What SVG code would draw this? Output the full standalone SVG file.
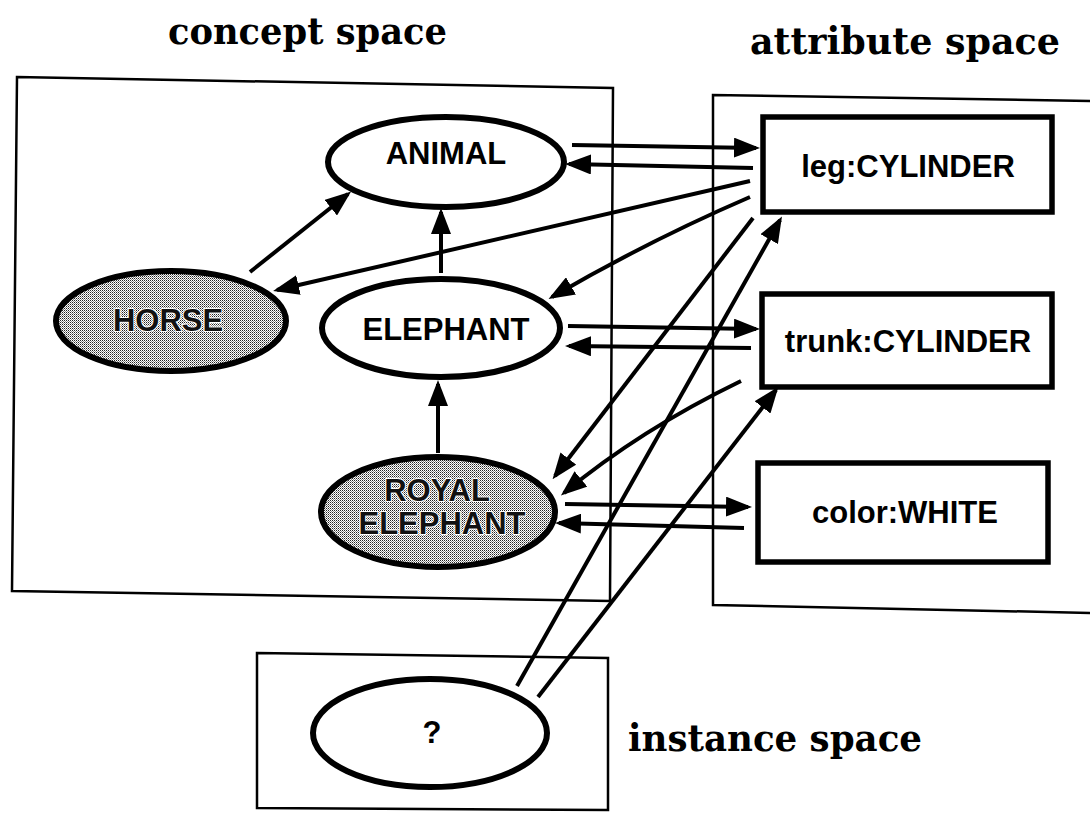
<svg xmlns="http://www.w3.org/2000/svg" width="1090" height="813" viewBox="0 0 1090 813">
  <defs>
    <!-- fine halftone used for the shaded concepts -->
    <pattern id="dither" width="2" height="2" patternUnits="userSpaceOnUse">
      <rect width="2" height="2" fill="#ffffff"/>
      <rect x="0" y="0" width="1" height="1" fill="#222"/>
      <rect x="1" y="1" width="1" height="1" fill="#888"/>
    </pattern>
    <marker id="head" markerUnits="userSpaceOnUse" markerWidth="26" markerHeight="20" refX="22" refY="10" orient="auto">
      <path d="M0,0 L26,10 L0,20 Z" fill="#000"/>
    </marker>
  </defs>
  <style>
    .space { fill: none; stroke: #000; stroke-width: 2.5; }
    .title { font-family: "DejaVu Serif", "Liberation Serif", serif; font-weight: bold; font-size: 38px; fill: #000; }
    .node { fill: #fff; stroke: #000; stroke-width: 6; }
    .shaded { fill: url(#dither); stroke: #000; stroke-width: 6; }
    .attr { fill: #fff; stroke: #000; stroke-width: 5.5; }
    .label { font-family: "Liberation Sans", Arial, sans-serif; font-weight: bold; font-size: 31px; fill: #000; text-anchor: middle; }
    .halo { fill: #111; stroke: #fff; stroke-width: 2; paint-order: stroke; stroke-linejoin: round; }
    .edge { fill: none; stroke: #000; stroke-width: 4; marker-end: url(#head); }
  </style>

  <rect width="1090" height="813" fill="#fff"/>

  <!-- the three spaces -->
  <g id="concept-space">
    <polygon class="space" points="17,77 613,88 610,601 12,591"/>
    <text class="title" x="168" y="44" textLength="279" lengthAdjust="spacingAndGlyphs">concept space</text>
  </g>
  <g id="attribute-space">
    <polyline class="space" points="1095,101 713,95 713,605 1095,613"/>
    <text class="title" x="750" y="54" textLength="310" lengthAdjust="spacingAndGlyphs">attribute space</text>
  </g>
  <g id="instance-space">
    <polygon class="space" points="257,653 608,658 608,810 257,808"/>
    <text class="title" x="628" y="751" textLength="294" lengthAdjust="spacingAndGlyphs">instance space</text>
  </g>

  <!-- concepts -->
  <g id="animal">
    <ellipse class="node" cx="446" cy="162" rx="118" ry="45"/>
    <text class="label" x="446" y="164" font-size="30">ANIMAL</text>
  </g>
  <g id="horse">
    <ellipse class="shaded" cx="171" cy="321" rx="115" ry="50"/>
    <text class="label halo" x="168" y="331">HORSE</text>
  </g>
  <g id="elephant">
    <ellipse class="node" cx="441" cy="328" rx="119" ry="49"/>
    <text class="label" x="446" y="340">ELEPHANT</text>
  </g>
  <g id="royal-elephant">
    <ellipse class="shaded" cx="438" cy="512" rx="117" ry="55"/>
    <text class="label halo" x="437" y="501" font-size="28">ROYAL</text>
    <text class="label halo" x="442" y="534" font-size="29">ELEPHANT</text>
  </g>

  <!-- attributes -->
  <g id="leg">
    <rect class="attr" x="763" y="117" width="289" height="95"/>
    <text class="label" x="908" y="177">leg:CYLINDER</text>
  </g>
  <g id="trunk">
    <rect class="attr" x="762" y="294" width="290" height="93"/>
    <text class="label" x="908" y="352">trunk:CYLINDER</text>
  </g>
  <g id="color">
    <rect class="attr" x="758" y="463" width="290" height="99"/>
    <text class="label" x="905" y="523">color:WHITE</text>
  </g>

  <!-- instance -->
  <g id="instance">
    <ellipse class="node" cx="430" cy="733" rx="117" ry="54"/>
    <text class="label" x="432" y="743" font-size="32">?</text>
  </g>

  <!-- links -->
  <g id="connectors">
    <path class="edge" d="M250,272 L348,194"/>
    <path class="edge" d="M441,273 L441,212"/>
    <path class="edge" d="M438,453 L438,384"/>
    <path class="edge" d="M572,145 L756,148"/>
    <path class="edge" d="M753,168 L569,164"/>
    <path class="edge" d="M750,181 L277,290"/>
    <path class="edge" d="M750,197 Q650,240 552,297"/>
    <path class="edge" d="M568,326 L756,329"/>
    <path class="edge" d="M751,348 L569,346"/>
    <path class="edge" d="M753,218 L555,476"/>
    <path class="edge" d="M741,381 Q640,430 564,493"/>
    <path class="edge" d="M565,504 L748,507"/>
    <path class="edge" d="M744,528 L559,523"/>
    <path class="edge" d="M517,686 L780,220"/>
    <path class="edge" d="M538,697 L776,390"/>
  </g>
</svg>
